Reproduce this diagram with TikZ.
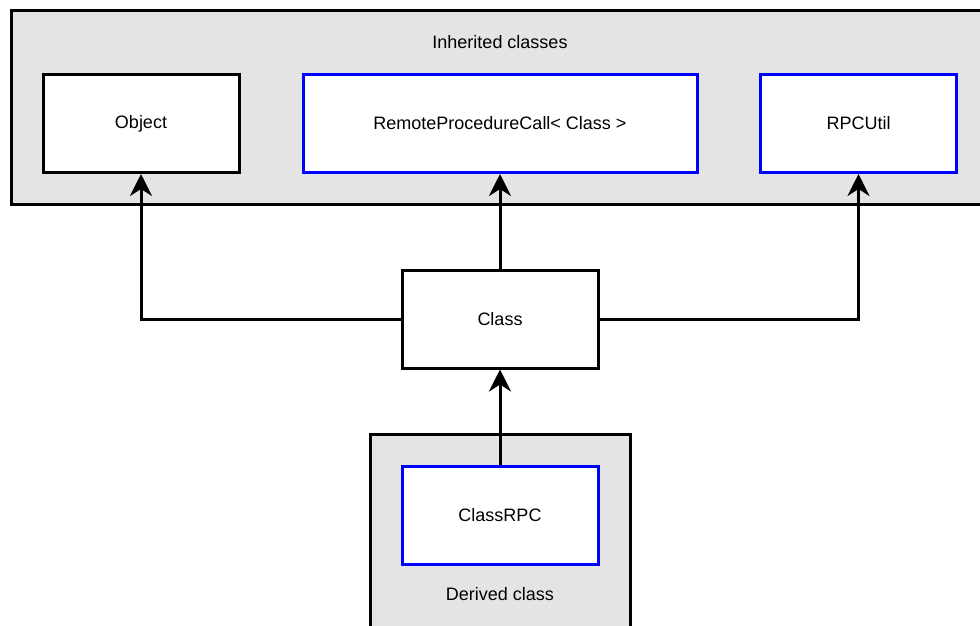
\documentclass[tikz,border=0pt]{standalone}
\usepackage{fontspec}
\setmainfont{Liberation Sans}
\usetikzlibrary{arrows.meta}
\definecolor{groupfill}{RGB}{228,228,228}
\definecolor{rpcblue}{RGB}{0,0,255}
\tikzset{
  classbox/.style={draw=black, fill=white, line width=3pt, minimum width=196pt, minimum height=98pt, inner sep=0pt, font=\fontsize{18}{21}\selectfont},
  rpcbox/.style={classbox, draw=rpcblue},
  groupbox/.style={draw=black, fill=groupfill, line width=3pt},
  inherit/.style={line width=3pt, -{Stealth[length=22pt, width=22pt, inset=7pt]}},
  grouplabel/.style={font=\fontsize{18}{21}\selectfont, inner sep=0pt}
}
\begin{document}
\begin{tikzpicture}[x=1pt, y=-1pt]
\useasboundingbox (0,0) rectangle (980,625);
\clip (0,0) rectangle (980,625);
% group boxes
\draw[groupbox] (11,10) rectangle (990,204);
\draw[groupbox] (370,434) rectangle (630,640);
\node[grouplabel] (inhlabel) at (500,42) {Inherited classes};
\node[grouplabel] (derlabel) at (500,594) {Derived class};
% classes
\node[classbox] (object) at (141,123.5) {Object};
\node[rpcbox, minimum width=394pt] (rpc) at (500,123.5) {RemoteProcedureCall< Class >};
\node[rpcbox] (rpcutil) at (858.5,123.5) {RPCUtil};
\node[classbox] (class) at (500,319) {Class};
\node[rpcbox] (classrpc) at (500,515) {ClassRPC};
% connectors
\draw[inherit] (class.west) -| (object.south);
\draw[inherit] (class.north) -- (rpc.south);
\draw[inherit] (class.east) -| (rpcutil.south);
\draw[inherit] (classrpc.north) -- (class.south);
\end{tikzpicture}
\end{document}
